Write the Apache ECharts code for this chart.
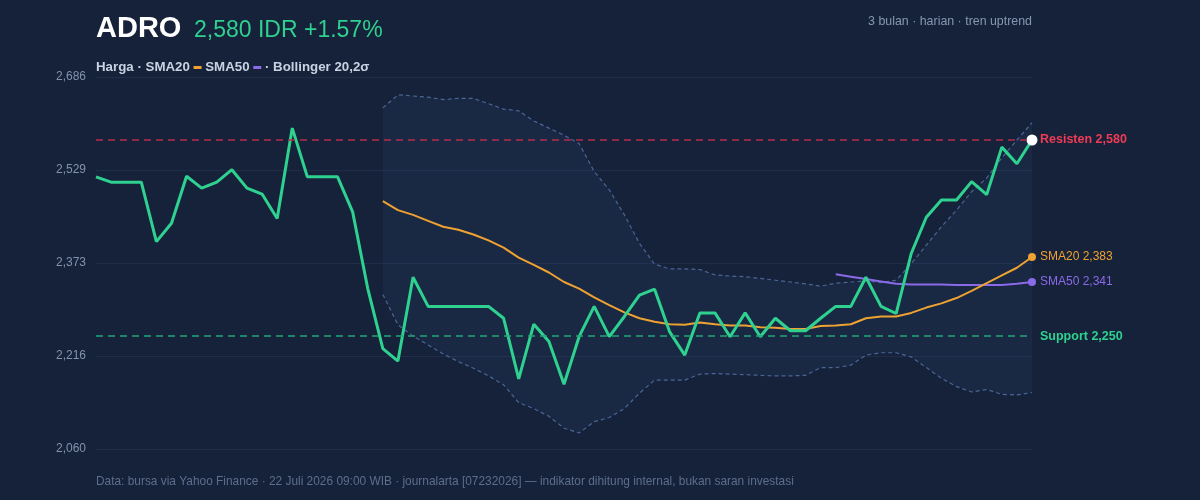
<!DOCTYPE html>
<html>
<head>
<meta charset="utf-8">
<title>ADRO</title>
<script src="https://cdn.jsdelivr.net/npm/echarts@6/dist/echarts.min.js"></script>
<style>
html, body { margin: 0; padding: 0; background: #16223a; }
#main { width: 1200px; height: 500px; }
</style>
</head>
<body>
<div id="main"></div>
<script>
// harga penutupan harian (63 hari)
var price = [2518, 2509, 2509, 2509, 2409, 2440, 2519, 2499, 2509, 2530,
    2499, 2489, 2448, 2600, 2518, 2518, 2518, 2459, 2330, 2229,
    2208, 2349, 2300, 2300, 2300, 2300, 2300, 2280, 2178, 2270,
    2241, 2169, 2249, 2300, 2249, 2283, 2319, 2329, 2257, 2218,
    2289, 2289, 2249, 2289, 2249, 2280, 2259, 2259, 2280, 2300,
    2300, 2349, 2300, 2288, 2389, 2450, 2479, 2479, 2510, 2488,
    2568, 2540, 2580];

// indikator mulai dari hari ke-20 / ke-50
var bandStart = 19;
var sma50Start = 49;
var sma20 = [2477, 2462, 2454, 2444, 2434, 2429, 2421, 2411, 2399, 2382,
    2370, 2357, 2341, 2330, 2315, 2302, 2290, 2280, 2274, 2270,
    2269, 2273, 2270, 2268, 2268, 2265, 2264, 2262, 2262, 2267,
    2268, 2270, 2280, 2283, 2283, 2289, 2298, 2305, 2314, 2326,
    2339, 2352, 2365, 2383];
var bbUpper = [2634, 2656, 2654, 2652, 2648, 2650, 2650, 2641, 2632, 2629,
    2612, 2600, 2588, 2574, 2527, 2496, 2454, 2406, 2371, 2363,
    2363, 2362, 2353, 2351, 2350, 2347, 2344, 2341, 2338, 2334,
    2339, 2341, 2343, 2340, 2344, 2372, 2403, 2434, 2462, 2493,
    2516, 2550, 2580, 2609];
var bbLower = [2320, 2269, 2250, 2235, 2220, 2207, 2196, 2183, 2168, 2138,
    2128, 2115, 2095, 2087, 2106, 2113, 2128, 2154, 2176, 2176,
    2176, 2186, 2187, 2186, 2185, 2184, 2183, 2183, 2184, 2197,
    2197, 2201, 2218, 2222, 2222, 2215, 2197, 2179, 2165, 2156,
    2160, 2152, 2151, 2155];
var sma50 = [2354, 2350, 2346, 2342, 2338, 2337, 2337, 2337, 2336, 2336,
    2336, 2336, 2338, 2341];

var yTicks = [2060, 2216.5, 2373, 2529.5, 2686];
var resistance = 2580;
var support = 2250;

var days = [];
for (var i = 1; i <= price.length; i++) days.push('H' + i);

function pad(start, arr) {
    var out = [];
    for (var k = 0; k < start; k++) out.push(null);
    return out.concat(arr);
}
function fmt(v) {
    return Math.floor(v).toLocaleString('en-US');
}
var bbWidth = bbUpper.map(function (u, k) { return u - bbLower[k]; });
var last = price.length - 1;
var font = '"Liberation Sans", Arial, Helvetica, sans-serif';
var bandLine = { color: '#4a6595', width: 1.2, type: [4, 3] };

var chart = echarts.init(document.getElementById('main'));
chart.setOption({
    backgroundColor: '#16223a',
    animation: false,
    textStyle: { fontFamily: font },
    title: [{
        text: 'ADRO', left: 96, top: 14.5, padding: 0,
        textStyle: { color: '#ffffff', fontSize: 29, fontWeight: 'bold', fontFamily: font }
    }, {
        text: fmt(price[last]) + ' IDR +1.57%', left: 194, top: 19.5, padding: 0,
        textStyle: { color: '#2ed18f', fontSize: 23, fontWeight: 'normal', fontFamily: font }
    }, {
        text: '3 bulan · harian · tren uptrend', right: 168, top: 16, padding: 0,
        textStyle: { color: '#8797b0', fontSize: 12.4, fontWeight: 'normal', fontFamily: font }
    }, {
        text: 'Harga · SMA20 {o|} SMA50 {p|} · Bollinger 20,2σ', left: 96, top: 61, padding: 0,
        textStyle: {
            color: '#c9d2e3', fontSize: 13.3, fontWeight: 'bold', fontFamily: font,
            rich: {
                o: { width: 8, height: 3, backgroundColor: '#eea232', verticalAlign: 'middle' },
                p: { width: 8, height: 3, backgroundColor: '#8a6ae8', verticalAlign: 'middle' }
            }
        }
    }, {
        text: 'Data: bursa via Yahoo Finance · 22 Juli 2026 09:00 WIB · journalarta [07232026] — indikator dihitung internal, bukan saran investasi',
        left: 96, top: 476, padding: 0,
        textStyle: { color: '#5d6e8c', fontSize: 11.9, fontWeight: 'normal', fontFamily: font }
    }],
    grid: { left: 96, right: 168, top: 77, bottom: 51 },
    xAxis: {
        type: 'category', data: days, boundaryGap: false,
        axisLine: { show: false }, axisTick: { show: false },
        axisLabel: { show: false }, splitLine: { show: false }
    },
    yAxis: {
        type: 'value', min: yTicks[0], max: yTicks[yTicks.length - 1],
        axisLine: { show: false },
        axisTick: { show: false, customValues: yTicks },
        axisLabel: {
            customValues: yTicks, color: '#8393ad', fontSize: 12, margin: 10,
            formatter: fmt
        },
        splitLine: { show: true, lineStyle: { color: '#202d48', width: 1 } }
    },
    series: [{
        name: 'BB lower', type: 'line', data: pad(bandStart, bbLower), stack: 'bb',
        showSymbol: false, silent: true, z: 1,
        lineStyle: bandLine
    }, {
        name: 'BB band', type: 'line', data: pad(bandStart, bbWidth), stack: 'bb',
        showSymbol: false, silent: true, z: 1,
        lineStyle: { width: 0, opacity: 0 },
        areaStyle: { color: 'rgba(60,90,150,0.15)' }
    }, {
        name: 'BB upper', type: 'line', data: pad(bandStart, bbUpper),
        showSymbol: false, silent: true, z: 2,
        lineStyle: bandLine
    }, {
        name: 'SMA50', type: 'line', data: pad(sma50Start, sma50), z: 3,
        symbol: 'circle', showSymbol: true,
        symbolSize: function (v, p) { return p.dataIndex === last ? 8 : 0; },
        itemStyle: { color: '#8a6ae8' },
        lineStyle: { color: '#8a6ae8', width: 2 },
        endLabel: {
            show: true, distance: 8, color: '#8a6ae8', fontSize: 12,
            formatter: function (p) { return 'SMA50 ' + fmt(p.value); }
        }
    }, {
        name: 'SMA20', type: 'line', data: pad(bandStart, sma20), z: 3,
        symbol: 'circle', showSymbol: true,
        symbolSize: function (v, p) { return p.dataIndex === last ? 8 : 0; },
        itemStyle: { color: '#eea232' },
        lineStyle: { color: '#eea232', width: 2 },
        endLabel: {
            show: true, distance: 8, color: '#eea232', fontSize: 12,
            formatter: function (p) { return 'SMA20 ' + fmt(p.value); }
        }
    }, {
        name: 'Harga', type: 'line', data: price, z: 4,
        symbol: 'circle', showSymbol: true,
        symbolSize: function (v, p) { return p.dataIndex === last ? 11 : 0; },
        itemStyle: { color: '#ffffff' },
        lineStyle: { color: '#2ed18f', width: 3 },
        markLine: {
            silent: true, symbol: ['none', 'none'],
            data: [{
                yAxis: resistance,
                lineStyle: { color: '#b52d4b', width: 1.5, type: [7, 5] },
                label: {
                    position: 'end', distance: 8, color: '#ef3b55', fontSize: 12.5, fontWeight: 'bold',
                    formatter: 'Resisten ' + fmt(resistance)
                }
            }, {
                yAxis: support,
                lineStyle: { color: '#24a577', width: 1.5, type: [7, 5] },
                label: {
                    position: 'end', distance: 8, color: '#2ed18f', fontSize: 12.5, fontWeight: 'bold',
                    formatter: 'Support ' + fmt(support)
                }
            }]
        }
    }]
});
</script>
</body>
</html>
